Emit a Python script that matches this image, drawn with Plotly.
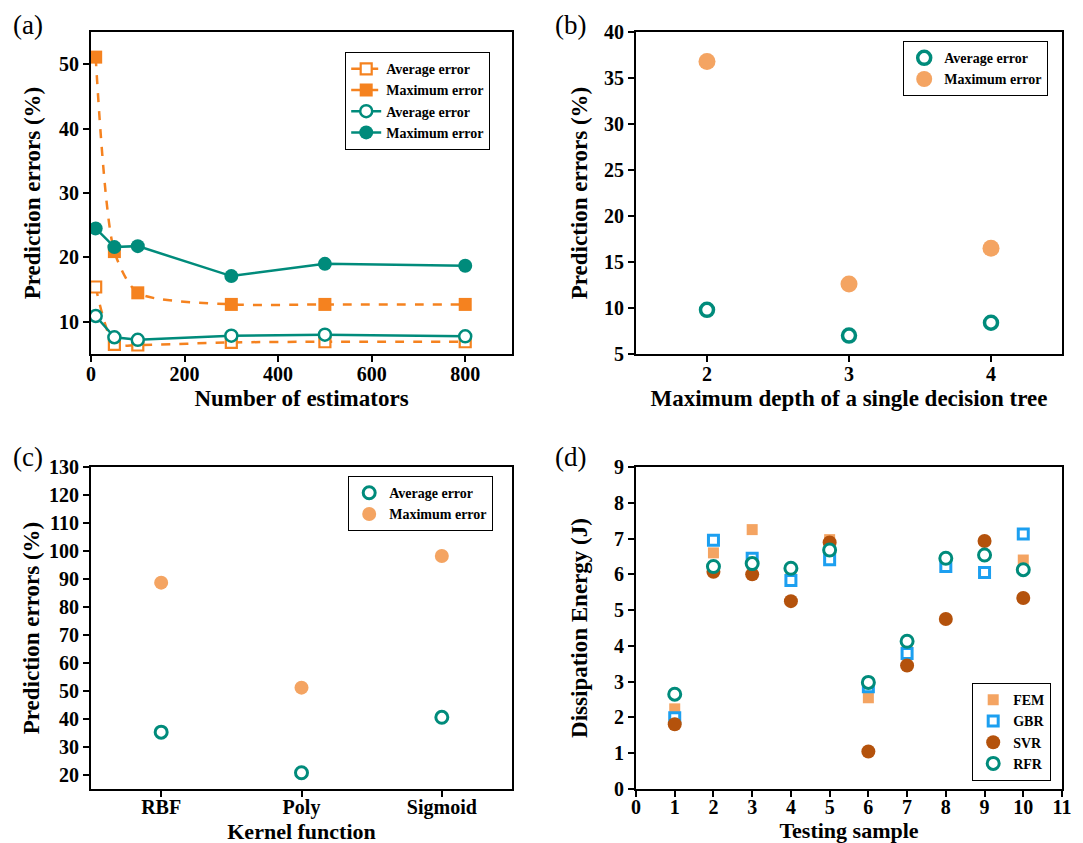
import plotly.graph_objects as go

# ---------------- data ----------------
# (a) number of estimators
n_estimators = [10, 50, 100, 300, 500, 800]
gbr_avg = [15.4, 6.5, 6.4, 6.8, 6.9, 6.9]
gbr_max = [51.1, 20.9, 14.5, 12.7, 12.7, 12.7]
rfr_avg = [10.9, 7.6, 7.2, 7.85, 8.0, 7.75]
rfr_max = [24.5, 21.6, 21.75, 17.1, 19.0, 18.7]

# (b) max depth
depths = [2, 3, 4]
depth_avg = [9.8, 7.0, 8.4]
depth_max = [36.8, 12.6, 16.5]

# (c) kernel function
kernels = ["RBF", "Poly", "Sigmoid"]
kernel_avg = [35.3, 20.8, 40.6]
kernel_max = [88.7, 51.2, 98.2]

# (d) testing samples
samples = [1, 2, 3, 4, 5, 6, 7, 8, 9, 10]
fem = [2.24, 6.6, 7.25, 6.02, 6.97, 2.55, 4.02, 6.3, 6.05, 6.4]
gbr = [1.99, 6.95, 6.45, 5.83, 6.41, 2.86, 3.79, 6.22, 6.05, 7.13]
svr = [1.81, 6.07, 6.0, 5.25, 6.89, 1.05, 3.45, 4.75, 6.93, 5.34]
rfr = [2.65, 6.22, 6.3, 6.17, 6.68, 2.98, 4.13, 6.45, 6.54, 6.13]

# ---------------- style ----------------
FONT = "Liberation Serif"
ORANGE = "#F5821F"
TEAL = "#008B7B"
LORANGE = "#F4A462"
BLUE = "#1C9FF0"
BROWN = "#B4520C"

W, H = 1083, 843
OFF = 8  # page body margin offset
def px(v):
    return v - OFF
def xd(l, r):
    return [px(l) / W, px(r) / W]
def yd(t, b):
    return [1 - px(b) / H, 1 - px(t) / H]

fig = go.Figure()

# (a)
fig.add_trace(go.Scatter(x=n_estimators, y=gbr_avg, mode="lines+markers", name="Average error",
                         line=dict(color=ORANGE, width=2.5, dash="dash", shape="spline", smoothing=0.7),
                         marker=dict(symbol="square", size=11, color="white", line=dict(color=ORANGE, width=2.2)),
                         xaxis="x", yaxis="y", legend="legend"))
fig.add_trace(go.Scatter(x=n_estimators, y=gbr_max, mode="lines+markers", name="Maximum error",
                         line=dict(color=ORANGE, width=2.5, dash="dash", shape="spline", smoothing=0.7),
                         marker=dict(symbol="square", size=13, color=ORANGE),
                         xaxis="x", yaxis="y", legend="legend"))
fig.add_trace(go.Scatter(x=n_estimators, y=rfr_avg, mode="lines+markers", name="Average error",
                         line=dict(color=TEAL, width=2.5),
                         marker=dict(symbol="circle", size=12, color="white", line=dict(color=TEAL, width=2.5)),
                         xaxis="x", yaxis="y", legend="legend"))
fig.add_trace(go.Scatter(x=n_estimators, y=rfr_max, mode="lines+markers", name="Maximum error",
                         line=dict(color=TEAL, width=2.5),
                         marker=dict(symbol="circle", size=14, color=TEAL),
                         xaxis="x", yaxis="y", legend="legend"))

# (b)
fig.add_trace(go.Scatter(x=depths, y=depth_avg, mode="markers", name="Average error",
                         marker=dict(symbol="circle", size=13, color="white", line=dict(color=TEAL, width=3.5)),
                         xaxis="x2", yaxis="y2", legend="legend2"))
fig.add_trace(go.Scatter(x=depths, y=depth_max, mode="markers", name="Maximum error",
                         marker=dict(symbol="circle", size=17, color=LORANGE),
                         xaxis="x2", yaxis="y2", legend="legend2"))

# (c)
fig.add_trace(go.Scatter(x=kernels, y=kernel_avg, mode="markers", name="Average error",
                         marker=dict(symbol="circle", size=12, color="white", line=dict(color=TEAL, width=3)),
                         xaxis="x3", yaxis="y3", legend="legend3"))
fig.add_trace(go.Scatter(x=kernels, y=kernel_max, mode="markers", name="Maximum error",
                         marker=dict(symbol="circle", size=14, color=LORANGE),
                         xaxis="x3", yaxis="y3", legend="legend3"))

# (d)
fig.add_trace(go.Scatter(x=samples, y=fem, mode="markers", name="FEM",
                         marker=dict(symbol="square", size=11, color=LORANGE),
                         xaxis="x4", yaxis="y4", legend="legend4"))
fig.add_trace(go.Scatter(x=samples, y=gbr, mode="markers", name="GBR",
                         marker=dict(symbol="square", size=10, color="white", line=dict(color=BLUE, width=3)),
                         xaxis="x4", yaxis="y4", legend="legend4"))
fig.add_trace(go.Scatter(x=samples, y=svr, mode="markers", name="SVR",
                         marker=dict(symbol="circle", size=14, color=BROWN),
                         xaxis="x4", yaxis="y4", legend="legend4"))
fig.add_trace(go.Scatter(x=samples, y=rfr, mode="markers", name="RFR",
                         marker=dict(symbol="circle", size=12, color="white", line=dict(color=TEAL, width=3)),
                         xaxis="x4", yaxis="y4", legend="legend4"))

tickfont = dict(family=FONT, size=20, color="black", weight="bold")
titlefont = dict(family=FONT, size=23, color="black", weight="bold")
titlefont_b = dict(family=FONT, size=22, color="black", weight="bold")

def axis(domain, anchor, title, standoff, tfont=titlefont, **kw):
    d = dict(domain=domain, anchor=anchor, showline=True, mirror=True, linecolor="black", linewidth=2,
             ticks="outside", ticklen=6, tickwidth=1.5, tickcolor="black", showgrid=False, zeroline=False,
             tickfont=tickfont, automargin=False,
             title=dict(text=title, font=tfont, standoff=standoff))
    d.update(kw)
    return d

AX = xd(91, 512)
BX = xd(636, 1062)
TOP = yd(32, 354)
BOT = yd(467, 789)

legfont = dict(family=FONT, size=14, color="black", weight="bold")
def leg(xr, y):
    return dict(x=px(xr) / W, y=1 - px(y) / H, xanchor="right", yanchor="top", bgcolor="white",
                bordercolor="black", borderwidth=1.2, font=legfont, tracegroupgap=0,
                itemwidth=30)

XK = dict(ticklabelstandoff=-5)
XB = dict(ticklabelstandoff=-7)
fig.update_layout(
    width=W, height=H, margin=dict(l=0, r=0, t=0, b=0, pad=0, autoexpand=False),
    paper_bgcolor="white", plot_bgcolor="white",
    font=dict(family=FONT, color="black"),
    xaxis=axis(AX, "y", "Number of estimators", 6, range=[0, 900], tickvals=[0, 200, 400, 600, 800], **XK),
    yaxis=axis(TOP, "x", "Prediction errors (%)", 12, range=[5, 55], tickvals=[10, 20, 30, 40, 50]),
    xaxis2=axis(BX, "y2", "Maximum depth of a single decision tree", 6, range=[1.5, 4.5], tickvals=depths, **XK),
    yaxis2=axis(TOP, "x2", "Prediction errors (%)", 10, range=[5, 40], dtick=5, tick0=5),
    xaxis3=axis(AX, "y3", "Kernel function", 0, titlefont_b, type="category", range=[-0.5, 2.5],
                categoryarray=kernels, **XB),
    yaxis3=axis(BOT, "x3", "Prediction errors (%)", 3, range=[15, 130], tickvals=list(range(20, 131, 10))),
    xaxis4=axis(BX, "y4", "Testing sample", 0, titlefont_b, range=[0, 11], dtick=1, tick0=0, **XB),
    yaxis4=axis(BOT, "x4", "Dissipation Energy (J)", 20, range=[0, 9], dtick=1, tick0=0),
    legend=leg(490, 52),
    legend2=leg(1048, 41),
    legend3=leg(493, 476),
    legend4=leg(1051, 683),
    showlegend=True,
)

lab = dict(family=FONT, size=27, color="black")
for txt, x, y in [("(a)", 11, 8), ("(b)", 553, 8), ("(c)", 11, 440), ("(d)", 553, 440)]:
    fig.add_annotation(text=txt, x=px(x) / W, y=1 - px(y) / H, xref="paper", yref="paper",
                       xanchor="left", yanchor="top", showarrow=False, font=lab)

fig.write_html("out.html")
